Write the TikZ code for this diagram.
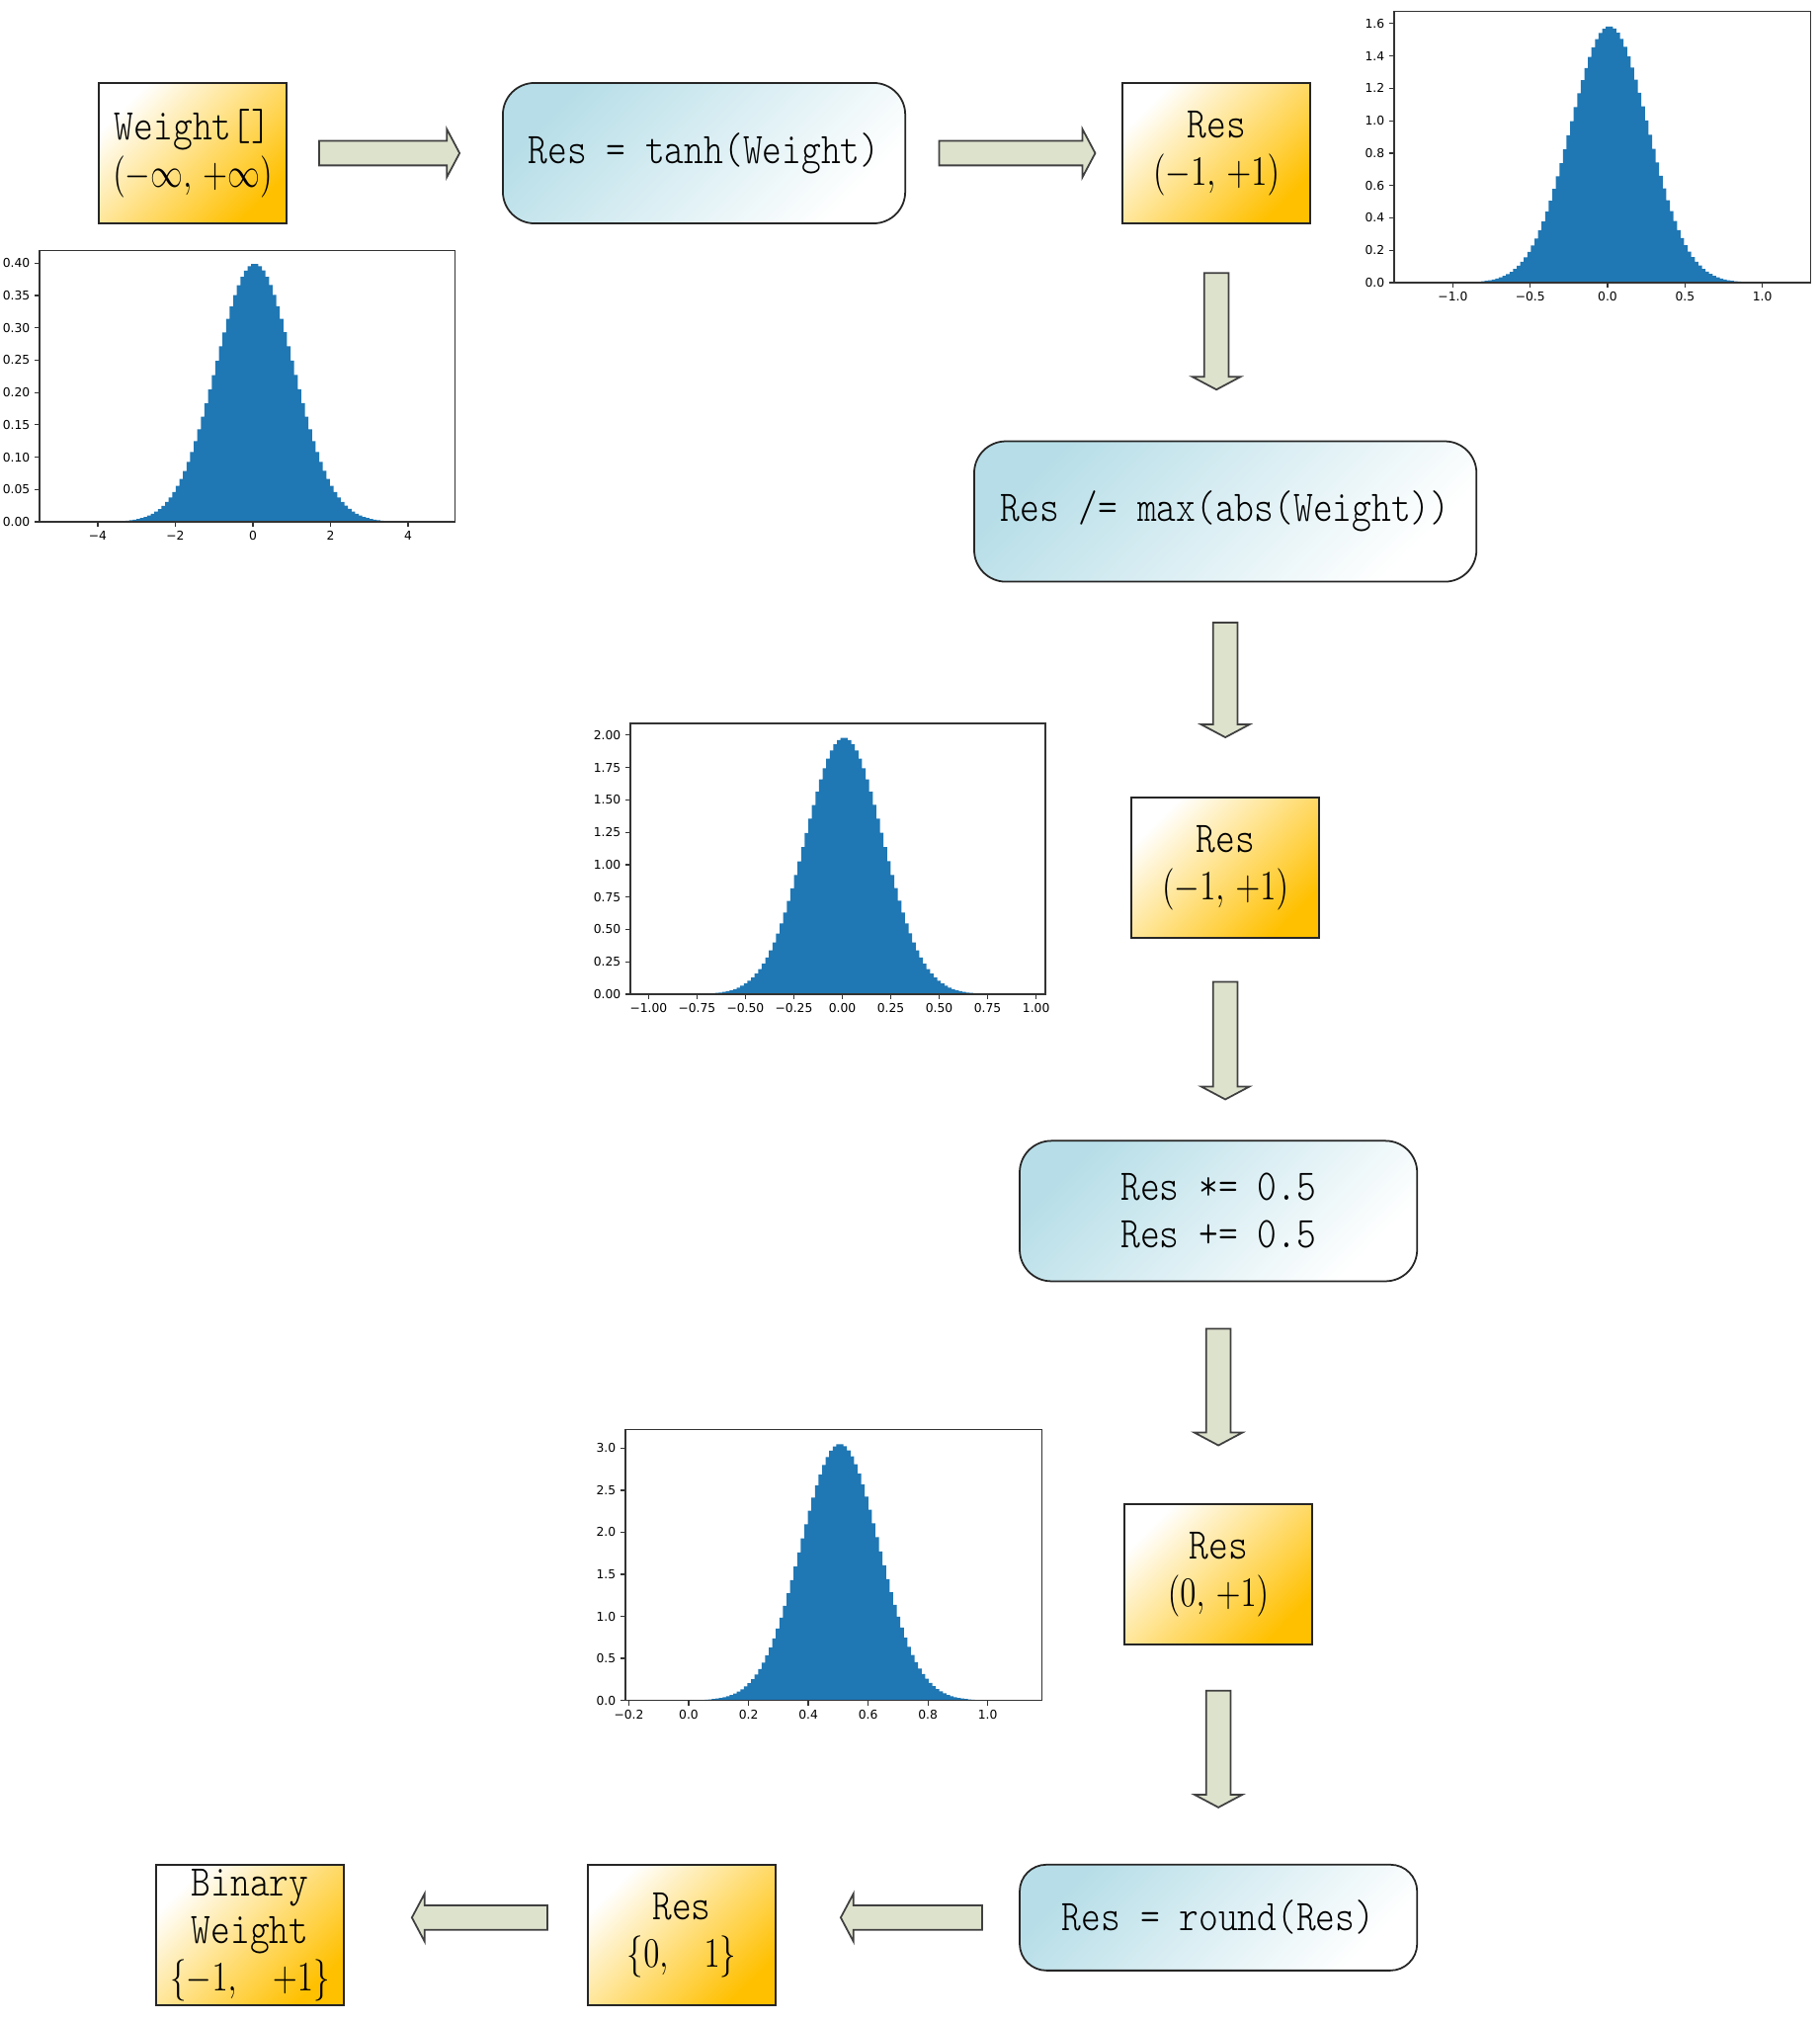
\documentclass[tikz,border=0pt]{standalone}
\usepackage{fontspec}
\usepackage{graphicx}
\setmonofont[FakeStretch=0.85]{lmmonolt10-regular.otf}
\newfontfamily\tickfont{DejaVu Sans}
\usetikzlibrary{positioning}
\usetikzlibrary{shapes}

\definecolor{histblue}{HTML}{1F77B4}
\definecolor{gold}{HTML}{FFC000}
\definecolor{paleblue}{HTML}{B7DEE8}
\definecolor{arrowfill}{RGB}{221,226,205}

\tikzset{
    valbox/.style={draw=black!85, line width=0.5pt, top color=white, bottom color=gold, shading angle=45,
        minimum width=1.9cm, minimum height=1.42cm, inner sep=0pt, align=center,
        font=\ttfamily\fontsize{12.6}{13.66}\selectfont},
    opbox/.style={draw=black!85, line width=0.5pt, top color=paleblue, bottom color=white, shading angle=45,
        rounded corners=0.32cm, minimum height=1.42cm, inner sep=0pt, align=center,
        font=\ttfamily\fontsize{12.6}{13.66}\selectfont},
    fatarrow/.style={single arrow, draw=black!75, fill=arrowfill, line width=0.5pt,
        inner xsep=0pt, inner ysep=0.115cm, minimum width=0.47cm,
        single arrow head extend=0.12cm, single arrow tip angle=124,
        sloped, allow upside down},
    axisline/.style={draw=black!80, line width=0.35pt},
    ticklabel/.style={font=\tickfont\fontsize{3.5}{4}\selectfont, inner sep=0pt}
}

\begin{document}
\begin{tikzpicture}[x=0.01cm, y=0.01cm]
    \useasboundingbox (0,0) rectangle (1841,-2046);

    \node[valbox] (W) at (195,-155) {Weight[]\\\scalebox{0.78}[1]{$(-\infty,\,+\infty)$}};
    \node[opbox, minimum width=4.07cm, right=2.17cm of W] (T) {Res = tanh(Weight)};
    \node[valbox, right=2.18cm of T] (R1) {Res\\\scalebox{0.78}[1]{$(-1,\,+1)$}};
    \node[opbox, minimum width=5.08cm, below=2.186cm of R1, xshift=0.09cm] (M) {Res /= max(abs(Weight))};
    \node[valbox, below=2.164cm of M] (R2) {Res\\\scalebox{0.78}[1]{$(-1,\,+1)$}};
    \node[opbox, minimum width=4.02cm, below=2.035cm of R2, xshift=-0.07cm] (S) {Res *= 0.5\\Res += 0.5};
    \node[valbox, below=2.235cm of S] (R3) {Res\\\scalebox{0.78}[1]{$(0,\,+1)$}};
    \node[opbox, minimum width=4.02cm, minimum height=1.07cm, rounded corners=0.27cm, below=2.21cm of R3] (Rd) {Res = round(Res)};
    \node[valbox, left=2.45cm of Rd.north west, anchor=north east] (R4) {Res\\\scalebox{0.78}[1]{$\{0,\ \ 1\}$}};
    \node[valbox, left=2.45cm of R4] (B) {Binary\\Weight\\\scalebox{0.78}[1]{$\{-1,\ \ +1\}$}};

    \path (W.east) -- (T.west) node[fatarrow, pos=0.46, minimum height=1.42cm] {};
    \path (T.east) -- (R1.west) node[fatarrow, midway, minimum height=1.58cm] {};
    \path (R1.south) -- (R1.south |- M.north) node[fatarrow, pos=0.48, minimum height=1.18cm] {};
    \path (M.south) -- (M.south |- R2.north) node[fatarrow, pos=0.44, minimum height=1.16cm] {};
    \path (R2.south) -- (R2.south |- S.north) node[fatarrow, pos=0.49, minimum height=1.19cm] {};
    \path (S.south) -- (S.south |- R3.north) node[fatarrow, pos=0.46, minimum height=1.18cm] {};
    \path (R3.south) -- (R3.south |- Rd.north) node[fatarrow, pos=0.46, minimum height=1.18cm] {};
    \path (Rd.west) -- (Rd.west -| R4.east) node[fatarrow, pos=0.43, minimum height=1.43cm] {};
    \path (R4.west |- Rd.west) -- (Rd.west -| B.east) node[fatarrow, pos=0.43, minimum height=1.37cm] {};

    \begin{scope}[shift={(256,-528)}, x=0.3925cm, y=6.54cm]
        \fill[histblue] (-3.65,0) -- plot[const plot, domain=-3.65:3.65, samples=80] (\x,{0.3989*exp(-0.5*\x*\x)}) -- (3.65,0) -- cycle;
        \draw[axisline] (-5.5,0) rectangle (5.2,0.419);
        \foreach \v/\t in {-4/−4,-2/−2,0/0,2/2,4/4}
            \draw[axisline] (\v,0) -- ++(0pt,-1.4pt) node[ticklabel, below=1.2pt] {\t};
        \foreach \v in {0.00,0.05,0.10,0.15,0.20,0.25,0.30,0.35,0.40}
            \draw[axisline] (-5.5,\v) -- ++(-1.4pt,0pt) node[ticklabel, left=1.2pt] {\v};
    \end{scope}

    \begin{scope}[shift={(1627,-286)}, x=1.565cm, y=1.6375cm]
        \fill[histblue] (-0.91,0) -- plot[const plot, domain=-0.91:0.91, samples=80] (\x,{1.583*exp(-0.5*(\x/0.252)*(\x/0.252))}) -- (0.91,0) -- cycle;
        \draw[axisline] (-1.38,0) rectangle (1.31,1.673);
        \foreach \v/\t in {-1/−1.0,-0.5/−0.5,0/0.0,0.5/0.5,1/1.0}
            \draw[axisline] (\v,0) -- ++(0pt,-1.4pt) node[ticklabel, below=1.2pt] {\t};
        \foreach \v in {0.0,0.2,0.4,0.6,0.8,1.0,1.2,1.4,1.6}
            \draw[axisline] (-1.38,\v) -- ++(-1.4pt,0pt) node[ticklabel, left=1.2pt] {\v};
    \end{scope}

    \begin{scope}[shift={(852.5,-1006)}, x=1.96cm, y=1.31cm]
        \fill[histblue] (-0.73,0) -- plot[const plot, domain=-0.73:0.73, samples=80] (\x,{1.98*exp(-0.5*(\x/0.2015)*(\x/0.2015))}) -- (0.73,0) -- cycle;
        \draw[axisline] (-1.094,0) rectangle (1.048,2.09);
        \foreach \v/\t in {-1/−1.00,-0.75/−0.75,-0.5/−0.50,-0.25/−0.25,0/0.00,0.25/0.25,0.5/0.50,0.75/0.75,1/1.00}
            \draw[axisline] (\v,0) -- ++(0pt,-1.4pt) node[ticklabel, below=1.2pt] {\t};
        \foreach \v in {0.00,0.25,0.50,0.75,1.00,1.25,1.50,1.75,2.00}
            \draw[axisline] (-1.094,\v) -- ++(-1.4pt,0pt) node[ticklabel, left=1.2pt] {\v};
    \end{scope}

    \begin{scope}[shift={(697,-1720.6)}, x=3.025cm, y=0.85cm]
        \fill[histblue] (0.03,0) -- plot[const plot, domain=0.03:0.97, samples=80] (\x,{3.05*exp(-0.5*((\x-0.5)/0.1308)*((\x-0.5)/0.1308))}) -- (0.97,0) -- cycle;
        \draw[axisline] (-0.2116,0) rectangle (1.18,3.22);
        \foreach \v/\t in {-0.2/−0.2,0/0.0,0.2/0.2,0.4/0.4,0.6/0.6,0.8/0.8,1/1.0}
            \draw[axisline] (\v,0) -- ++(0pt,-1.4pt) node[ticklabel, below=1.2pt] {\t};
        \foreach \v in {0.0,0.5,1.0,1.5,2.0,2.5,3.0}
            \draw[axisline] (-0.2116,\v) -- ++(-1.4pt,0pt) node[ticklabel, left=1.2pt] {\v};
    \end{scope}
\end{tikzpicture}
\end{document}
